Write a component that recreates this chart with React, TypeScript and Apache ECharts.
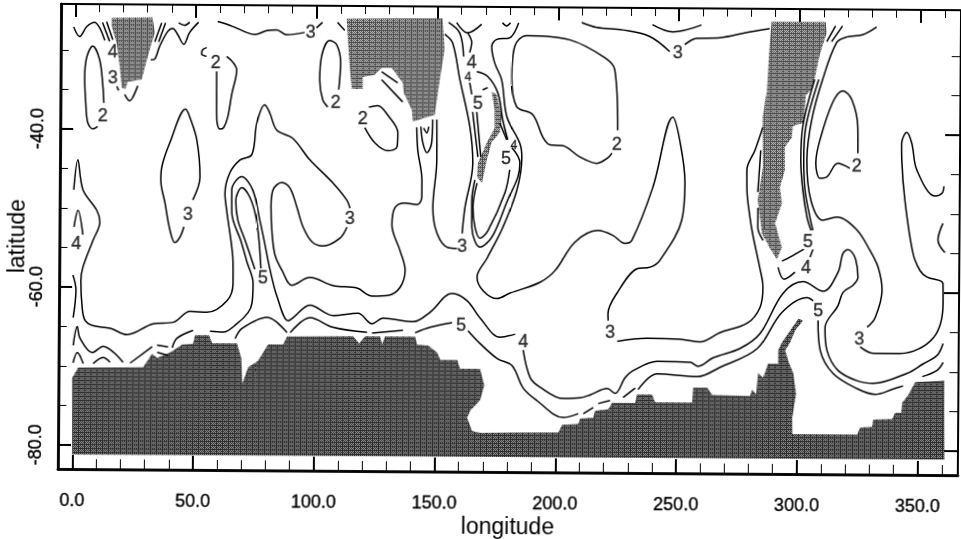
import React, { useEffect, useRef } from "react";
import * as echarts from "echarts";

type Pt = number[];

// axis values
const lonMajor = [0, 50, 100, 150, 200, 250, 300, 350];
const lonMinor = [10, 20, 30, 40, 60, 70, 80, 90, 110, 120, 130, 140, 160, 170, 180, 190, 210, 220, 230, 240, 260, 270, 280, 290, 310, 320, 330, 340, 360];
const latMajor = [-80, -60, -40];
const latMinor = [-75, -70, -65, -55, -50, -45, -35, -30];

// masked land
const africa: Pt[] = [[15.1,-25.9],[32,-25.8],[33,-27.7],[30.1,-30.8],[27.7,-33.7],[21.9,-34],[21.1,-34.9],[19.5,-34.8],[18.6,-32.2],[17.2,-29.1],[15.1,-27]];
const australia: Pt[] = [[112.4,-25.8],[152.1,-25.7],[153,-29.6],[151.1,-33.5],[149.1,-37.9],[140.1,-38.8],[139.6,-37.3],[136.2,-35.1],[135.8,-33.9],[131.2,-32],[127,-32],[124.1,-32.9],[119.2,-33.2],[119.2,-34.7],[114.7,-34.7],[113.8,-31.9],[112.9,-28.5]];
const southAmerica: Pt[] = [[288.3,-25.8],[310.7,-25.8],[311.1,-27.2],[308.3,-30],[305.5,-34.2],[302.7,-35.1],[301.9,-38.6],[297.4,-39],[297,-40.5],[294.1,-41.7],[294.2,-44.6],[292.2,-46.8],[293.1,-48.8],[290.3,-51.3],[293.2,-54.4],[291.2,-55.9],[288.3,-54.5],[284.9,-52.6],[283.1,-48.4],[285.1,-44.2],[284.9,-37.9],[286.5,-34.8],[287.6,-28.5]];
const newZealand: Pt[] = [[172.6,-34.9],[174.7,-35.3],[176.9,-38.1],[176.1,-40.1],[172.8,-41.3],[170.8,-43.6],[168.8,-46.5],[166.8,-45.7],[167.1,-44],[170.7,-41.4],[174,-39.5],[173.9,-37.2]];
const antarctica: Pt[] = [[0,-81.2],[-0.2,-71.5],[2.2,-70.2],[29.1,-70.1],[32.8,-68.4],[34.9,-68.9],[40.3,-68.2],[45.2,-67.2],[49.7,-67.1],[50.5,-66],[56.3,-66],[57.6,-67],[67.9,-67],[69.7,-68.8],[70.2,-72.1],[72.6,-70],[76.7,-69.2],[80.8,-67.1],[87,-67.1],[88.6,-66.1],[115.9,-66],[118.5,-66.9],[120.9,-66],[127.1,-66],[128,-67],[129.2,-66],[141.6,-66],[142.5,-67],[147,-67.1],[150.8,-68],[152.1,-68.9],[159.1,-68.9],[160.3,-70],[168.6,-70],[170.4,-72.1],[168.7,-74],[164.7,-75.3],[163.4,-76.2],[165.5,-77.9],[168.9,-78.1],[201.2,-78],[202.8,-77],[209.4,-76.9],[210.2,-76.2],[215.6,-76.1],[216.4,-75.2],[221.8,-75],[223.4,-74.2],[232.9,-74.2],[233.7,-73.1],[239.9,-73.1],[241.2,-74.1],[256.5,-74.1],[256.9,-72.2],[262.7,-72.2],[264.8,-73.1],[280.5,-73.2],[281.3,-72.4],[283,-73],[283.7,-70.3],[285.9,-70.9],[287.8,-69.1],[292,-69.1],[292,-67.4],[293.5,-66.4],[296,-65.3],[300.2,-63.4],[302.2,-63.6],[298.9,-64.9],[296.9,-66.4],[294.9,-67.4],[296.1,-68.7],[298.3,-70.3],[299.5,-72.9],[298,-75.9],[298.1,-78],[325,-78],[326.1,-77.1],[331.1,-77],[331.5,-76.1],[339.4,-76],[340.6,-75.2],[343.1,-75.2],[343.5,-73.9],[345.9,-73],[348.8,-71.3],[360.8,-71.1],[361.1,-81.1]];

// contour lines
const waveA: Pt[] = [[-0.6,-27.1],[1.9,-28.3],[4.8,-27.05],[8,-26.5],[10.1,-27.16],[12.3,-28.8]];
const waveB: Pt[] = [[11.3,-26.5],[14.3,-28.9]];
const waveC: Pt[] = [[13,-26.4],[15.6,-28.7]];
const capeA: Pt[] = [[20.7,-35.6],[22.8,-36.4],[24,-36],[26.1,-34.5]];
const capeB: Pt[] = [[17.4,-34.6],[18.2,-35.1]];
const indianTop: Pt[] = [[31.4,-31.2],[33,-31.1],[35,-29.5],[38.3,-27.6],[40.4,-27.2],[42.5,-28],[45,-29.2],[47.4,-27.7],[51.1,-26.4]];
const indianB: Pt[] = [[33,-28.9],[35.8,-26.5]];
const indianC: Pt[] = [[34.6,-28.9],[37.4,-26.5]];
const indianD: Pt[] = [[42.8,-26.5],[45.3,-26.8],[47.4,-26.4]];
const topThreeA: Pt[] = [[59,-26.3],[65.2,-26.9],[71.4,-27.7],[74.3,-27.9],[79.3,-27.4],[83.4,-27.3],[87.6,-27.9],[95,-27.6]];
const topThreeB: Pt[] = [[99.9,-27],[102.4,-26.3]];
const topThreeC: Pt[] = [[108.6,-26.3],[111.6,-27.3]];
const ovalTwoA: Pt[] = [[12.1,-36.7],[11.6,-34.4],[10.2,-31.2],[7.3,-29.5],[4.9,-30.9],[4.1,-33.4],[4.6,-36.7],[5.5,-39.2],[7.6,-40],[9.6,-39.7]];
const hookTwo: Pt[] = [[54.5,-29.6],[52.8,-29.9],[52.4,-30.4],[54.5,-30.7]];
const ovalTwoB: Pt[] = [[62.8,-30.7],[65.3,-31.4],[67,-32.4],[65,-35.5],[63.4,-38.4],[61.8,-39.7],[60.2,-39.9],[58.9,-38.7],[58.8,-36.2],[58.7,-32.6]];
const lensThree: Pt[] = [[49.2,-48.9],[52.1,-46],[50.7,-41.3],[47.7,-38.4],[46,-37.4],[39.5,-41.7],[36.3,-44.7],[35.9,-46.4],[37.7,-49.3],[39.8,-52.7],[41.9,-54.3],[44,-53.6],[45.6,-52.3]];
const bigThreeA: Pt[] = [[-0.1,-47.7],[1.5,-43.9],[3.7,-47.7],[9.5,-50.3],[10.8,-51.8],[8,-54.1],[3.9,-57.5],[3.1,-59.2],[3.7,-62.6],[4.9,-64.2],[8.3,-64.9],[15.3,-65.2],[22.4,-66],[33.1,-64.6],[41.4,-64.4],[48.4,-63],[55.4,-63.1],[63.7,-61.6],[66.1,-59.4],[66,-56.5],[65.1,-54],[63.4,-50.5],[62.5,-48],[64.5,-45.4],[68.6,-43.8],[73.5,-43.1],[75.5,-39.1],[78.7,-36.8],[80.8,-37.8],[83.8,-40],[90.4,-41],[97.5,-43.7],[107.1,-46.6],[113,-48.8],[114.3,-49.8]];
const bigThreeB: Pt[] = [[113.1,-52.2],[110.2,-53.6],[103.2,-54.6],[98.7,-54.1],[94.9,-52.2],[92.3,-49.7],[89.4,-47.3],[86,-46.6],[82.3,-47.6],[81.6,-49.7],[82.1,-53],[83.4,-55.8],[86.3,-57.7],[90.5,-59.6],[97.9,-58.6],[107.5,-59.6],[117.4,-59.9],[123.7,-60.9],[130.3,-60.8],[135.2,-59.8],[137.3,-57.6],[135.1,-55.1],[131.7,-51.9],[132.9,-49.7],[137,-49.1],[142,-49.3],[144,-48.3],[144,-46.2],[142.2,-42.4],[141.7,-39.5]];
const edgeA: Pt[] = [[0.1,-52.4],[1.7,-50.3],[3.8,-53.4]];
const edgeB: Pt[] = [[-0.2,-58.5],[1.1,-60.4],[0,-63.9]];
const fourA: Pt[] = [[56.7,-65.5],[62.1,-65.6],[67.9,-64.5],[72.4,-63.1],[74,-61.9],[74.4,-59.4],[71.8,-56.7],[69.3,-54.1],[65.4,-50.5],[65.3,-47.6],[69.4,-45.9],[74,-47.6],[77,-51.4],[78.8,-53.9],[81.4,-57.7],[84.4,-61.1],[89,-64.1],[91.1,-63.7],[98,-62.1],[107.6,-63.4],[117.9,-63.1],[123.8,-64.4],[128.3,-63.7],[140.8,-64.1],[147.7,-62.9],[156.8,-60.5],[163,-61.4],[168.5,-63.6],[176.8,-66],[183,-65.6]];
const fourB: Pt[] = [[186.4,-67.6],[189.4,-71.1],[193.6,-72.3],[203.1,-73.7],[210.1,-73.6],[214.3,-73.2],[221.3,-72.4],[224.6,-73],[228.7,-71],[232,-70.1],[241.9,-68.9],[255.6,-69],[258.9,-69.5],[265.1,-68.4],[276.2,-67.2],[284.4,-65.3],[293.8,-60.2],[302.1,-58.7],[310.4,-59.9],[316.5,-57.5],[318.5,-55.1],[320.6,-54.6],[323.5,-55.6],[324.8,-58.1],[322.8,-59.1],[318.7,-60],[316.6,-61.7],[311.3,-64.5],[312.2,-67.4],[316.8,-69.9],[324.8,-71.2],[331.4,-71.5],[345.4,-70.2],[352,-69],[357.8,-67.9],[360.2,-66.4]];
const fourC: Pt[] = [[49.7,-65.4],[43.1,-66.4],[41.1,-67.6]];
const fourD: Pt[] = [[39.4,-67.5],[34.8,-67.3]];
const fourD2: Pt[] = [[39.4,-68.6],[34.9,-68.2]];
const fourE: Pt[] = [[32.8,-67.5],[23.7,-69.6]];
const fourF: Pt[] = [[20.8,-69.5],[12.5,-67.5],[8,-68.3],[2.9,-66.5],[1.7,-65],[0.1,-67.4]];
const lowA: Pt[] = [[0.1,-69.6],[1.8,-68.3],[4.3,-69.7]];
const lowB: Pt[] = [[8.4,-69.7],[12.5,-68.9],[15.4,-69.5]];
const fiveNest: Pt[] = [[75.1,-57.6],[70.9,-53.9],[67.9,-51.4],[67,-48.9],[69.5,-47.3],[72.8,-48.5],[75.4,-51],[76.7,-53.9],[77.6,-57.5]];
const fiveA: Pt[] = [[67.1,-66.4],[70,-65.1],[80.3,-63.7],[88.6,-65.6]];
const fiveB: Pt[] = [[89.9,-65.6],[98.1,-63.7],[107.7,-64.9],[121.7,-65.5]];
const fiveC: Pt[] = [[123.8,-65.6],[136.6,-65.2]];
const fiveD: Pt[] = [[141.6,-65.5],[147.8,-64.8],[156.9,-64.2]];
const fiveE: Pt[] = [[163.5,-65.2],[168.5,-66.8],[175.7,-68.7],[181.9,-69.6],[186.5,-72.4],[192.3,-74],[203.2,-76.1],[209.4,-75.6]];
const fiveF: Pt[] = [[211.5,-75.6],[215.6,-74.8]];
const fiveG: Pt[] = [[217.6,-74.3],[222.5,-73.9]];
const fiveH: Pt[] = [[227.9,-73.5],[232.9,-72.3]];
const fiveI: Pt[] = [[234.1,-72.5],[241.9,-70.5],[258.6,-70.8],[268,-69.6],[283.3,-67.2],[293.4,-62.6],[303.8,-60.7],[306.3,-61.1]];
const fiveJ: Pt[] = [[308.4,-63.6],[309.4,-67.4],[314.8,-70.3],[324.8,-72.2],[332.2,-72.9],[339.7,-72.2],[343.8,-71.8]];
const fiveK: Pt[] = [[351.7,-70.6],[357.8,-69.8],[360.3,-68.8]];
const tasmanA: Pt[] = [[153,-27.7],[156.3,-28.8],[159.4,-33.4],[163.7,-39.4],[165,-44],[161.9,-49.6],[160.8,-52.9]];
const bightLoop: Pt[] = [[143.4,-39.4],[144.3,-41.5],[146,-42.7],[147.9,-41.5],[148.3,-38.5]];
const bightCheck: Pt[] = [[144.6,-39.6],[145.9,-40.2],[146.7,-39.4]];
const bightThree: Pt[] = [[150,-38.5],[150.1,-43.6],[148.6,-49.6],[150.4,-52.9],[155,-54.7],[158.7,-54.8]];
const forkA: Pt[] = [[154.6,-26.2],[159.2,-27.5],[160.9,-30.5]];
const forkB: Pt[] = [[157.9,-26.2],[162.5,-27.5],[168.3,-26.4]];
const forkC: Pt[] = [[163.4,-30],[164.2,-28.7],[162.5,-27.5]];
const forkD: Pt[] = [[176.9,-26.2],[178.6,-26.6],[180.2,-26.2]];
const pacificThree: Pt[] = [[183.6,-26.2],[179.9,-28.1],[174.6,-28.3],[172.5,-29.2],[173.8,-31.3],[176.7,-33.4],[179,-38.1],[184.4,-41.4],[185.3,-43.2],[183.3,-47.4],[177.6,-52.1],[171.2,-56],[167.1,-58.4],[169.6,-60.1],[175.4,-61.1],[180.8,-60.4],[193.2,-59],[199.4,-57.5],[207.5,-53.9],[217,-52.4],[223.2,-53],[228.2,-54],[231.1,-53.6],[239.6,-46.9],[247.7,-38],[250.6,-40.9],[252.9,-46.3],[251.7,-51],[242.8,-56.1],[238.7,-57],[233.3,-57.2],[225.1,-60.3],[221.4,-62.9],[221.5,-63.8]];
const southThree: Pt[] = [[225.3,-66.4],[237.7,-66],[251.3,-66.1],[259.6,-66.4],[267.9,-65.2],[279.1,-64],[284.3,-62],[285.5,-59.4],[284.2,-57.1],[281.2,-52.9],[279.9,-50.6],[278.6,-47.2],[278.5,-44.6],[281.8,-42.1],[285,-39.2]];
const topWaveA: Pt[] = [[209.7,-26.1],[215.9,-26.7],[226.7,-27],[237.9,-27.8],[246.2,-29.7]];
const topWaveB: Pt[] = [[252.4,-28.8],[257.4,-28],[266.9,-27.9],[278.1,-27.2],[287.5,-26.7]];
const topWaveC: Pt[] = [[239,-26.3],[247.4,-27.2],[259.3,-26.3]];
const ovalTwoC: Pt[] = [[224.9,-39.7],[223.5,-32],[219.3,-30.5],[204.8,-28.3],[186.9,-27.8],[182,-29.2],[180.9,-33],[183,-36.8],[189.7,-37.8],[193.9,-40.6],[196.9,-41.6],[202.2,-41.7],[209.3,-43.1],[216.4,-43.9],[220.9,-43.2],[222.6,-42.6]];
const ovalTwoD: Pt[] = [[109.3,-34.8],[110,-31.4],[108.3,-29.1],[105.4,-28.6],[102.1,-30.6],[101.4,-33.6],[102.7,-36.1],[104.8,-37]];
const ovalTwoE: Pt[] = [[121.8,-37],[125.5,-36.8],[129.7,-38],[133.9,-40.2],[133.6,-42],[129.8,-42.5],[124.4,-41.5],[120.2,-39.6]];
const notchA: Pt[] = [[127,-32.5],[133.7,-33.9]];
const notchB: Pt[] = [[127,-33.5],[135.8,-36.3]];
const tasFourA: Pt[] = [[166.4,-32.4],[170.9,-33],[175.2,-35.1],[177.3,-38.5],[179.4,-41]];
const tasFourB: Pt[] = [[163.5,-33.8],[164.4,-35.3]];
const loopOuter: Pt[] = [[165.9,-46.1],[164.7,-48.7],[164.8,-52.1],[168.2,-54.6],[173.2,-53.3],[179.6,-48.6],[183.7,-45.7],[184.5,-43.9],[181.2,-42]];
const loopInner: Pt[] = [[166.8,-46.5],[165.2,-49.5],[166.1,-52.1],[168.2,-53.5],[171.5,-52.5],[178.4,-47.7],[180.3,-44.8]];
const tasFiveA: Pt[] = [[164.8,-37.5],[167.1,-43.2]];
const tasFiveB: Pt[] = [[166.5,-37.5],[168.3,-43.2]];
const tasFiveC: Pt[] = [[168.9,-34.7],[171,-34.4]];
const tasFiveD: Pt[] = [[176.1,-38.9],[179,-41]];
const eastThreeA: Pt[] = [[331.8,-26.4],[326,-27.4],[319.4,-27.7],[315.3,-28.4],[309.6,-33.1],[305.2,-38.2],[303.3,-43.3],[305.1,-48.4],[310.1,-50.9],[315.9,-50.5],[324.2,-52.1],[329.7,-54.7],[333.1,-56.8],[334.8,-59.7],[332,-63.2],[328.7,-64.4]];
const eastThreeB: Pt[] = [[325.9,-66.9],[331.3,-67.7],[342.5,-67.7],[356.1,-65.7],[360.1,-61.3],[360,-58.8],[353.4,-58],[350.5,-57.2],[347.5,-55],[344,-48.3],[342.6,-43.2],[342.5,-41.1],[344.6,-39.7],[346.7,-41.1],[348.9,-44.5],[356.4,-47.75],[359.3,-47.4],[360.1,-46.5]];
const edgeC: Pt[] = [[359.8,-51.2],[357.8,-53.3],[360.7,-54.9]];
const ovalTwoF: Pt[] = [[324.4,-42.4],[324.3,-39.1],[321.7,-35.6],[318,-34.5],[313.8,-36],[308.6,-40.8],[307,-43.7],[308.8,-45.6],[311.7,-45.4],[316.1,-43.7],[321.1,-44.3]];
const fiveEastA1: Pt[] = [[314.8,-26.3],[311.2,-28.3]];
const fiveEastB1: Pt[] = [[317.7,-26.3],[313.2,-28.3]];
const fiveEastA2: Pt[] = [[306.3,-33.1],[301.5,-39.1],[300.8,-43.3],[301.7,-47.1],[303.5,-50.5],[305.2,-52.2]];
const fiveEastB2: Pt[] = [[308,-33.1],[302.8,-39.1],[302,-43.3],[302.6,-47.1],[304.7,-50.5],[306,-52.2]];
const capeHornA: Pt[] = [[302.3,-54.6],[296.6,-55.6],[293.3,-56.1]];
const capeHornB: Pt[] = [[306.1,-54.6],[304.9,-55.6]];
const capeHornC: Pt[] = [[298.7,-57.5],[294.2,-58.4],[291.7,-56.9]];
const chileA: Pt[] = [[284.2,-42.1],[283.1,-47.4]];
const chileB: Pt[] = [[283.2,-49.4],[283.2,-51.9],[285.4,-53.5]];

const contourLines: Pt[][] = [waveA, waveB, waveC, capeA, capeB, indianTop, indianB, indianC, indianD, topThreeA, topThreeB, topThreeC, ovalTwoA, hookTwo, ovalTwoB, lensThree, bigThreeA, bigThreeB, edgeA, edgeB, fourA, fourB, fourC, fourD, fourD2, fourE, fourF, lowA, lowB, fiveNest, fiveA, fiveB, fiveC, fiveD, fiveE, fiveF, fiveG, fiveH, fiveI, fiveJ, fiveK, tasmanA, bightLoop, bightCheck, bightThree, forkA, forkB, forkC, forkD, pacificThree, southThree, topWaveA, topWaveB, topWaveC, ovalTwoC, ovalTwoD, ovalTwoE, notchA, notchB, tasFourA, tasFourB, loopOuter, loopInner, tasFiveA, tasFiveB, tasFiveC, tasFiveD, eastThreeA, eastThreeB, edgeC, ovalTwoF, fiveEastA1, fiveEastB1, fiveEastA2, fiveEastB2, capeHornA, capeHornB, capeHornC, chileA, chileB];

// contour labels: value, lon, lat
const contourLabels: [string, number, number][] = [["4",15.6,-30.2],["3",15.7,-33.4],["2",11.7,-38.2],["2",58.3,-31.4],["3",97.5,-27.5],["2",108.1,-36.3],["2",119.3,-38.35],["3",47.2,-50.7],["3",114.3,-51.05],["4",1,-54.47],["5",78.5,-58.6],["4",164.3,-31.1],["5",166.9,-36.35],["5",178.7,-43.3],["3",160.8,-54.5],["2",224.6,-41.4],["3",249.5,-29.8],["2",324,-43.9],["5",304,-53.5],["4",303.3,-56.8],["5",308.4,-62.3],["3",325.5,-65.8],["3",222.3,-65.2],["4",186.4,-66.5],["5",160.6,-64.5]];
const smallContourLabels: [string, number, number][] = [["4",162.7,-33],["4",182,-41.7]];

const FONT = "'Liberation Sans', Arial, sans-serif";
const INK = "#000000";
const X_MIN = -5.9;
const X_MAX = 366.7;
const Y_MIN = -83.05;
const Y_MAX = -24.2;
const HEAVY = { textBorderColor: INK, textBorderWidth: 0.35 };

function hatch(dark: string, mid: string, light: string) {
  const c = document.createElement("canvas");
  c.width = 6;
  c.height = 4;
  const g = c.getContext("2d")!;
  for (let x = 0; x < 6; x++) {
    for (let y = 0; y < 4; y++) {
      g.fillStyle = y === 0 || x === 0 ? dark : (x + y) % 2 ? mid : light;
      g.fillRect(x, y, 1, 1);
    }
  }
  return c;
}

function xAxis(position: string, customValues: number[], length: number, width: number, labels: boolean) {
  return {
    type: "value", position, min: X_MIN, max: X_MAX, splitLine: { show: false },
    axisLine: { show: true, onZero: false, lineStyle: { color: INK, width: position === "bottom" ? 2.5 : 2 } },
    axisTick: { show: true, inside: true, length, customValues, lineStyle: { color: INK, width } },
    axisLabel: labels
      ? { show: true, customValues, margin: 22, fontFamily: FONT, fontSize: 18, color: INK, ...HEAVY, formatter: (v: number) => v.toFixed(1) }
      : { show: false },
    ...(labels ? { name: "longitude", nameLocation: "middle", nameMoveOverlap: false, nameGap: 42, nameTextStyle: { fontFamily: FONT, fontSize: 23, color: INK } } : {}),
  };
}

function yAxis(position: string, customValues: number[], length: number, width: number, labels: boolean) {
  return {
    type: "value", position, min: Y_MIN, max: Y_MAX, splitLine: { show: false },
    axisLine: { show: true, onZero: false, lineStyle: { color: INK, width: position === "left" ? 2.5 : 2 } },
    axisTick: { show: true, inside: true, length, customValues, lineStyle: { color: INK, width } },
    axisLabel: labels
      ? { show: true, rotate: 90, customValues, margin: 14, fontFamily: FONT, fontSize: 18, color: INK, ...HEAVY, formatter: (v: number) => v.toFixed(1) }
      : { show: false },
    ...(labels ? { name: "latitude", nameLocation: "middle", nameMoveOverlap: false, nameGap: 32, nameTextStyle: { fontFamily: FONT, fontSize: 23, color: INK } } : {}),
  };
}

function landSeries(points: Pt[], fill: any) {
  return {
    type: "custom", silent: true, z: 1, clip: true, xAxisIndex: 0, yAxisIndex: 0,
    data: [[points[0][0], points[0][1]]],
    renderItem: (_p: any, api: any) => ({
      type: "polygon",
      shape: { points: points.map((p) => api.coord(p)) },
      style: { fill, stroke: null },
    }),
  };
}

function labelSeries(items: [string, number, number][], fontSize: number) {
  return {
    type: "scatter", z: 5, silent: true, symbolSize: 0,
    data: items.map(([t, lon, lat]) => ({ value: [lon, lat], text: t })),
    label: {
      show: true, position: "inside", fontFamily: FONT, fontSize, color: INK, ...HEAVY,
      formatter: (p: any) => p.data.text,
    },
  };
}

export default function App() {
  const ref = useRef<HTMLDivElement>(null);
  useEffect(() => {
    const chart = echarts.init(ref.current!, undefined, { renderer: "svg" });
    const darkFill = { image: hatch("#2c2c2c", "#3a3a3a", "#8a8a8a"), repeat: "repeat" };
    const greyFill = { image: hatch("#4a4a4a", "#5c5c5c", "#bcbcbc"), repeat: "repeat" };
    chart.setOption({
      animation: false,
      backgroundColor: "#ffffff",
      grid: { left: 58, top: 4, width: 900, height: 465, containLabel: false, outerBoundsMode: "none" },
      xAxis: [
        xAxis("bottom", lonMajor, 14, 2, true),
        xAxis("top", lonMajor, 13, 2, false),
        xAxis("bottom", lonMinor, 10, 1, false),
        xAxis("top", lonMinor, 8, 1, false),
      ],
      yAxis: [
        yAxis("left", latMajor, 13, 2, true),
        yAxis("right", latMajor, 15, 2, false),
        yAxis("left", latMinor, 8, 1, false),
        yAxis("right", latMinor, 9, 1, false),
      ],
      series: [
        landSeries(antarctica, darkFill),
        landSeries(africa, greyFill),
        landSeries(australia, greyFill),
        landSeries(southAmerica, greyFill),
        landSeries(newZealand, greyFill),
        ...contourLines.map((data) => ({
          type: "line", data, smooth: 0.35, showSymbol: false, silent: true, z: 3,
          lineStyle: { color: INK, width: 1.5 },
        })),
        labelSeries(contourLabels, 18),
        labelSeries(smallContourLabels, 12),
      ],
    });
    return () => chart.dispose();
  }, []);
  return (
    <div
      ref={ref}
      style={{
        position: "fixed", left: 0, top: 0, width: 961, height: 539, background: "#fff",
        transformOrigin: "72px 445px", transform: "rotate(0.4deg)",
      }}
    />
  );
}
